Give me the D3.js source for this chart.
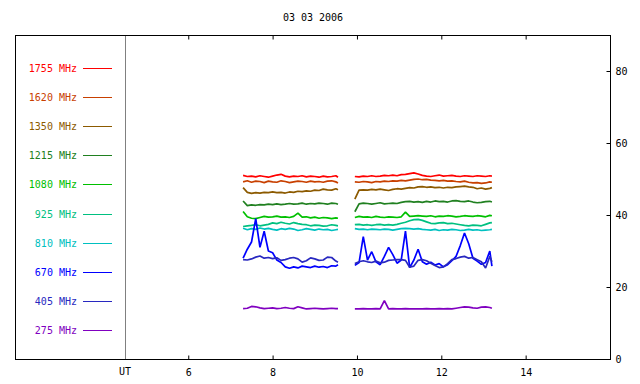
<!DOCTYPE html>
<html>
<head>
<meta charset="utf-8">
<script src="https://d3js.org/d3.v7.min.js"></script>
<style>
  body { margin: 0; background: #fff; }
  text { font-family: "DejaVu Sans Mono", monospace; font-size: 10px; }
</style>
</head>
<body>
<div id="chart"></div>
<script>
// time grid (UT hours), null = data gap
const hours = [7.3, 7.4, 7.5, 7.6, 7.7, 7.8, 7.9, 8.0, 8.1, 8.2, 8.3, 8.4, 8.5, 8.6, 8.7, 8.8, 8.9, 9.0, 9.1, 9.2, 9.3, 9.4, 9.5, 9.55,
  null,
  9.95, 10.05, 10.15, 10.25, 10.35, 10.45, 10.55, 10.65, 10.75, 10.85, 10.95, 11.05, 11.15, 11.25, 11.35, 11.45, 11.55, 11.65, 11.75, 11.85,
  11.95, 12.05, 12.15, 12.25, 12.35, 12.45, 12.55, 12.65, 12.75, 12.85, 12.95, 13.05, 13.15, 13.2];

const f1755 = [51.0, 50.7, 50.8, 50.6, 50.9, 50.7, 50.5, 50.8, 51.1, 51.3, 50.8, 50.6, 50.8, 50.7, 50.9, 50.6, 50.8, 50.7, 50.5, 50.8, 50.6, 50.7, 50.9, 50.5,
  null,
  50.7, 50.6, 50.8, 50.7, 50.9, 50.7, 50.8, 51.0, 50.9, 51.1, 50.9, 51.2, 51.3, 51.5, 51.7, 51.4, 51.0, 50.8, 50.7, 50.9,
  51.1, 50.8, 50.9, 51.0, 50.8, 50.7, 50.9, 50.8, 50.7, 50.9, 50.8, 50.7, 50.9, 50.8];
const f1620 = [49.2, 49.5, 49.1, 49.4, 49.3, 49.0, 49.4, 49.2, 49.1, 49.5, 49.3, 49.0, 49.2, 49.4, 49.3, 49.1, 49.4, 49.2, 49.3, 49.1, 49.4, 49.5, 49.2, 48.9,
  null,
  49.2, 49.1, 49.3, 49.2, 49.0, 49.3, 49.2, 49.4, 49.3, 49.5, 49.4, 49.6, 49.5, 49.7, 49.9, 50.0, 49.8, 49.9, 49.7, 49.6,
  49.5, 49.6, 49.4, 49.5, 49.3, 49.2, 49.4, 49.1, 48.9, 49.0, 48.8, 48.9, 49.2, 49.1];
const f1350 = [47.6, 46.3, 46.0, 46.2, 46.1, 46.3, 46.2, 46.4, 46.2, 46.3, 46.1, 46.4, 46.3, 46.6, 46.5, 46.7, 46.6, 46.9, 46.8, 47.2, 47.0, 46.9, 47.3, 47.0,
  null,
  44.4, 46.9, 47.0, 46.9, 47.1, 47.0, 47.2, 47.0, 46.8, 47.1, 47.3, 47.2, 47.4, 47.6, 47.5, 47.8, 47.9, 47.7, 47.8, 47.6,
  47.7, 47.5, 47.7, 47.6, 47.8, 47.9, 48.0, 47.8, 47.7, 47.3, 47.5, 47.2, 47.4, 47.6];
const f1215 = [43.9, 42.6, 42.8, 42.7, 42.9, 42.8, 43.0, 42.9, 43.1, 42.9, 43.0, 43.2, 43.0, 43.1, 43.3, 43.0, 43.2, 43.1, 43.3, 43.2, 43.0, 43.3, 43.2, 43.0,
  null,
  40.9, 43.1, 43.3, 43.2, 43.0, 43.2, 43.4, 43.1, 43.2, 43.3, 43.2, 43.5, 43.7, 43.8, 43.6, 43.7, 43.5, 43.8, 43.6, 43.9,
  43.7, 43.8, 43.6, 43.9, 44.0, 43.8, 43.7, 43.9, 43.6, 43.4, 43.5, 43.7, 43.8, 43.6];
const f1080 = [41.0, 39.5, 39.1, 39.0, 39.3, 39.6, 39.4, 39.5, 39.7, 39.4, 39.5, 39.3, 39.6, 40.5, 39.4, 39.5, 39.2, 39.4, 39.1, 39.3, 39.2, 39.0, 39.2, 39.1,
  null,
  39.3, 39.6, 39.4, 39.5, 39.3, 39.6, 39.4, 39.3, 39.5, 39.4, 39.3, 39.5, 40.8, 39.6, 39.7, 39.8, 39.7, 39.6, 39.8, 39.5,
  39.7, 39.6, 39.8, 39.7, 39.5, 39.6, 39.8, 39.7, 39.6, 39.8, 39.7, 39.5, 39.9, 39.8];
const f925 = [36.8, 37.0, 37.1, 37.3, 37.0, 37.2, 37.4, 37.8, 37.6, 38.0, 37.7, 37.5, 37.9, 37.6, 37.4, 37.3, 37.0, 37.2, 37.1, 36.9, 37.0, 37.3, 37.1, 37.0,
  null,
  37.3, 37.4, 37.2, 37.3, 37.1, 37.3, 37.4, 37.2, 37.3, 37.2, 37.4, 37.7, 38.0, 38.4, 38.7, 38.8, 38.5, 38.1, 37.7, 37.6,
  37.8, 37.9, 37.6, 37.7, 37.5, 37.3, 37.1, 37.0, 37.2, 37.1, 37.0, 37.4, 37.8, 37.9];
const f810 = [36.3, 35.9, 36.2, 36.0, 36.4, 36.1, 36.3, 36.0, 35.8, 36.2, 36.0, 36.3, 36.1, 35.7, 35.9, 36.2, 36.0, 35.8, 36.1, 35.9, 36.0, 35.7, 35.9, 36.0,
  null,
  36.2, 36.0, 36.1, 35.9, 36.1, 36.0, 35.9, 36.1, 36.0, 35.8, 36.0, 36.2, 36.3, 36.2, 36.1, 36.2, 36.0, 35.9, 35.8, 36.0,
  35.7, 35.9, 35.8, 36.0, 35.9, 35.7, 35.8, 36.0, 35.8, 35.9, 35.7, 35.8, 35.9, 36.0];
const f670 = [28.0, 30.5, 32.5, 39.0, 31.0, 35.5, 30.0, 29.5, 27.5, 26.8, 25.6, 25.2, 25.6, 25.3, 25.8, 25.6, 25.4, 25.8, 25.5, 25.7, 25.4, 25.9, 25.8, 26.2,
  null,
  26.0, 26.8, 34.0, 27.5, 29.8, 27.0, 26.2, 28.5, 31.0, 29.0, 26.6, 27.5, 35.5, 25.4, 27.5, 30.5, 27.0, 26.3, 26.9, 26.1,
  26.5, 25.6, 26.2, 27.3, 28.5, 31.5, 35.0, 32.0, 28.0, 27.2, 26.3, 26.8, 30.0, 25.8];
const f405 = [27.6, 27.5, 27.8, 28.3, 28.6, 28.0, 28.2, 27.9, 28.1, 27.4, 27.6, 28.0, 28.2, 27.8, 26.9, 27.3, 28.1, 27.8, 27.4, 27.5, 28.3, 28.2, 27.2, 26.9,
  null,
  26.5, 27.0, 27.3, 27.0, 26.8, 27.2, 26.7, 26.9, 27.4, 27.5, 27.6, 27.6, 27.4, 25.5, 25.8, 27.4, 27.6, 27.3, 26.6, 26.0,
  25.4, 25.6, 26.5, 27.6, 27.9, 28.3, 28.5, 28.0, 28.2, 27.6, 27.0, 25.3, 28.5, 27.0];
const f275 = [14.0, 14.1, 14.6, 14.5, 14.2, 14.0, 14.1, 14.2, 14.0, 14.1, 14.3, 14.1, 14.0, 14.5, 14.2, 13.9, 14.0, 14.1, 14.0, 13.9, 14.0, 14.1, 14.0, 14.0,
  null,
  13.9, 13.9, 14.0, 13.9, 13.9, 14.0, 13.9, 16.2, 13.9, 14.0, 13.9, 13.9, 14.0, 13.9, 13.9, 13.9, 13.9, 14.0, 13.9, 13.9,
  14.0, 13.9, 14.0, 13.9, 14.1, 14.3, 14.5, 14.4, 14.2, 14.1, 14.4, 14.5, 14.3, 14.1];

const labels = ["1755 MHz", "1620 MHz", "1350 MHz", "1215 MHz", "1080 MHz", "925 MHz", "810 MHz", "670 MHz", "405 MHz", "275 MHz"];
const values = [f1755, f1620, f1350, f1215, f1080, f925, f810, f670, f405, f275];
const colors = ["#ff0000", "#c84000", "#8c5a00", "#208020", "#00c000", "#00c080", "#00c0c0", "#0000ff", "#2828c0", "#8000c0"];

const xTicks = [6, 8, 10, 12, 14];
const yTicks = [0, 20, 40, 60, 80];
const title = "03 03 2006";

const width = 640, height = 384;
const frame = {left: 15, right: 610, top: 35, bottom: 359};
const plotLeft = 125;

const svg = d3.select("#chart").append("svg")
    .attr("width", width)
    .attr("height", height);

const x = d3.scaleLinear().domain([4.5, 16]).range([plotLeft, frame.right]);
const y = d3.scaleLinear().domain([0, 90]).range([frame.bottom, frame.top]);

// title
svg.append("text")
    .attr("x", 313).attr("y", 17)
    .attr("dy", "0.35em")
    .attr("text-anchor", "middle")
    .text(title);

// divider between legend and plot
svg.append("line")
    .attr("x1", plotLeft + 0.5).attr("x2", plotLeft + 0.5)
    .attr("y1", frame.top).attr("y2", frame.bottom)
    .attr("stroke", "#808080");

// series
const line = d3.line()
    .defined(d => d.v != null && d.t != null)
    .x(d => x(d.t))
    .y(d => y(d.v));

values.forEach((vals, i) => {
    const pts = hours.map((t, j) => ({t: t, v: vals[j]}));
    svg.append("path")
        .datum(pts)
        .attr("fill", "none")
        .attr("stroke", colors[i])
        .attr("stroke-width", 1.7)
        .attr("stroke-linejoin", "bevel")
        .attr("d", line);
});

// legend
const ly = d3.scaleLinear().domain([0, labels.length - 1]).range([68, 330]);
const legend = svg.append("g").selectAll("g")
    .data(labels)
    .join("g")
    .attr("transform", (d, i) => `translate(0,${Math.round(ly(i))})`);
legend.append("text")
    .attr("x", 77)
    .attr("dy", "0.35em")
    .attr("text-anchor", "end")
    .attr("fill", (d, i) => colors[i])
    .text(d => d);
legend.append("line")
    .attr("x1", 83).attr("x2", 112)
    .attr("y1", 0.5).attr("y2", 0.5)
    .attr("stroke", (d, i) => colors[i]);

// axes
const xAxis = svg.append("g")
    .attr("transform", `translate(0,${frame.bottom + 0.5})`)
    .call(d3.axisBottom(x).tickValues(xTicks).tickSize(-4).tickPadding(9).tickFormat(d3.format("d")));
const xTop = svg.append("g")
    .attr("transform", `translate(0,${frame.top + 0.5})`)
    .call(d3.axisTop(x).tickValues([6, 8, 10, 12, 14, 16]).tickSize(-4).tickFormat(""));
const yAxis = svg.append("g")
    .attr("transform", `translate(${frame.right + 0.5},0)`)
    .call(d3.axisRight(y).tickValues(yTicks).tickSize(-4).tickPadding(5));
[xAxis, xTop, yAxis].forEach(a => {
    a.select(".domain").remove();
    a.selectAll("text").style("font-family", "'DejaVu Sans Mono', monospace").style("font-size", "10px");
});

svg.append("text")
    .attr("x", plotLeft).attr("y", frame.bottom + 9)
    .attr("dy", "0.71em")
    .attr("text-anchor", "middle")
    .text("UT");

// frame
svg.append("rect")
    .attr("x", frame.left + 0.5).attr("y", frame.top + 0.5)
    .attr("width", frame.right - frame.left)
    .attr("height", frame.bottom - frame.top)
    .attr("fill", "none")
    .attr("stroke", "#000");
</script>
</body>
</html>
